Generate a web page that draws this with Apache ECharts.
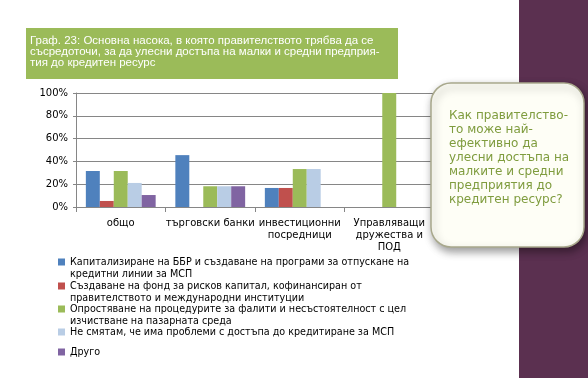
<!DOCTYPE html>
<html>
<head>
<meta charset="utf-8">
<script src="https://cdn.jsdelivr.net/npm/echarts@6/dist/echarts.min.js"></script>
<style>
  html, body { margin: 0; padding: 0; background: #ffffff; }
  #chart { width: 588px; height: 378px; }
</style>
</head>
<body>
<div id="chart"></div>
<script>
// Данни на графиката
const categories = ['общо', 'търговски банки', 'инвестиционни\nпосредници', 'Управляващи\nдружества и\nПОД'];
const seriesNames = [
  'Капитализиране на ББР и създаване на програми за отпускане на\nкредитни линии за МСП',
  'Създаване на фонд за рисков капитал, кофинансиран от\nправителството и международни институции',
  'Опростяване на процедурите за фалити и несъстоятелност с цел\nизчистване на пазарната среда',
  'Не смятам, че има проблеми с достъпа до кредитиране за МСП',
  'Друго'
];
const capitalBBR = [31.6, 45.5, 16.7, 0];
const riskFund = [5.3, 0, 16.7, 0];
const simplifyBankruptcy = [31.6, 18.2, 33.3, 100];
const noProblems = [21.1, 18.2, 33.3, 0];
const otherAnswer = [10.5, 18.2, 0, 0];
const seriesValues = [capitalBBR, riskFund, simplifyBankruptcy, noProblems, otherAnswer];
const yTicks = [0, 20, 40, 60, 80, 100];

const colors = ['#4f81bd', '#c0504d', '#9bbb59', '#b9cde5', '#8064a2'];
const titleText = 'Граф. 23: Основна насока, в която правителството трябва да се\nсъсредоточи, за да улесни достъпа на малки и средни предприя-\nтия до кредитен ресурс';
const calloutText = 'Как правителство-\nто може най-\nефективно да\nулесни достъпа на\nмалките и средни\nпредприятия до\nкредитен ресурс?';

const chart = echarts.init(document.getElementById('chart'));

// Легенда: отделен компонент за всеки запис, маркерът е до първия ред.
// За двуредовите записи иконата е висока колкото текста, а квадратчето е горе.
const tallIcon = 'path://M0,0L0.01,0L0.01,0.01Z M0,2.5L7,2.5L7,9.5L0,9.5Z M0,24L0.01,24L0.01,23.99Z';
const legendTops = [256, 280, 303, 326, 346];
const legends = seriesNames.map((name, i) => {
  const twoLines = name.indexOf('\n') >= 0;
  return {
    data: [name],
    left: 58,
    top: legendTops[i],
    padding: 0,
    orient: 'vertical',
    itemWidth: 7,
    itemHeight: twoLines ? 24 : 7,
    icon: twoLines ? tallIcon : 'rect',
    selectedMode: false,
    textStyle: {
      fontFamily: 'DejaVu Sans',
      fontSize: 9.6,
      color: '#000',
      lineHeight: 12
    }
  };
});

const option = {
  animation: false,
  backgroundColor: '#ffffff',
  title: {
    text: titleText,
    left: 30,
    top: 35,
    padding: 0,
    textStyle: {
      fontFamily: 'Liberation Sans',
      fontSize: 11.5,
      fontWeight: 'normal',
      color: '#ffffff',
      lineHeight: 11
    }
  },
  legend: legends,
  grid: { left: 76, right: 154, top: 93, bottom: 171 },
  xAxis: {
    type: 'category',
    data: categories,
    axisLine: { lineStyle: { color: '#868686', width: 1 } },
    axisTick: { show: true, length: 5, lineStyle: { color: '#868686' } },
    axisLabel: {
      interval: 0,
      margin: 10,
      fontFamily: 'DejaVu Sans',
      fontSize: 10,
      lineHeight: 12,
      color: '#000'
    }
  },
  yAxis: {
    type: 'value',
    min: yTicks[0],
    max: yTicks[yTicks.length - 1],
    interval: 20,
    axisLine: { show: true, lineStyle: { color: '#868686' } },
    axisTick: { show: true, length: 3, lineStyle: { color: '#868686' } },
    splitLine: { lineStyle: { color: '#868686', width: 1 } },
    axisLabel: {
      formatter: '{value}%',
      margin: 8,
      fontFamily: 'DejaVu Sans',
      fontSize: 10,
      color: '#000'
    }
  },
  series: seriesNames.map((name, i) => ({
    name: name,
    type: 'bar',
    data: seriesValues[i],
    barGap: '0%',
    barCategoryGap: '22%',
    itemStyle: { color: colors[i] }
  })),
  graphic: [
    // лилава лента вдясно
    {
      type: 'rect', z: -10, silent: true,
      shape: { x: 519, y: 0, width: 69, height: 378 },
      style: { fill: '#5b3050' }
    },
    // зелено каре за заглавието
    {
      type: 'rect', z: -10, silent: true,
      shape: { x: 26, y: 28, width: 372, height: 51 },
      style: { fill: '#9bbb59' }
    },
    // балонче с въпроса
    {
      type: 'rect', z: 100, silent: true,
      shape: { x: 431, y: 83, width: 153, height: 164, r: 20 },
      style: {
        fill: '#fefef6',
        stroke: '#a8a88c',
        lineWidth: 1.5,
        shadowBlur: 8,
        shadowOffsetX: 2,
        shadowOffsetY: 4,
        shadowColor: 'rgba(0,0,0,0.4)'
      }
    },
    {
      type: 'text', z: 101, silent: true,
      left: 449, top: 109,
      style: {
        text: calloutText,
        fill: '#7f9c3e',
        font: '12px "DejaVu Sans"',
        lineHeight: 14
      }
    }
  ]
};

chart.setOption(option);
</script>
</body>
</html>
